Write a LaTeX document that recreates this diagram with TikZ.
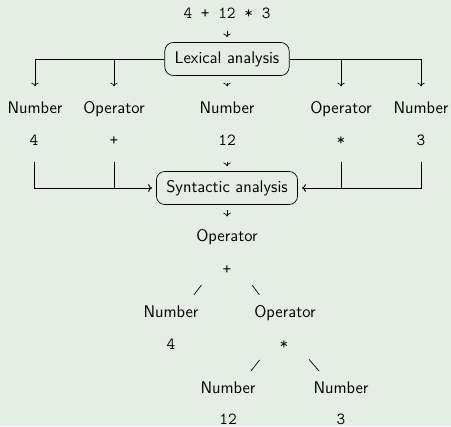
\documentclass[tikz,border=0pt]{standalone}
\usepackage{tikz}
\usetikzlibrary{arrows.meta}
\definecolor{paper}{RGB}{228,238,228}

\begin{document}
\begin{tikzpicture}[x=0.025cm, y=-0.025cm, font=\fontsize{12pt}{14pt}\sffamily,
    >={To[length=2.6pt, width=5.2pt]}, line width=0.5pt,
    word/.style={text height=8pt, text depth=2pt, inner sep=3.33pt},
    value/.style={word, font=\fontsize{12pt}{14pt}\ttfamily},
    stage/.style={draw, rounded corners=6pt, minimum height=23.5pt, inner xsep=7pt},
    twig/.style={shorten <=13.5pt, shorten >=5.5pt}]
    \fill[paper] (0,0) rectangle (451,426);
    \useasboundingbox (0,0) rectangle (451,426);

    % input and scanner
    \node[value] (expr) at (227,14) {4 + 12 * 3};
    \node[stage] (lex) at (227,59) {Lexical analysis};
    \draw[->, shorten <=3.5pt, shorten >=3.5pt] (expr) -- (lex);

    % tokens
    \node[word] (n1) at (35,109) {Number};
    \node[word] (o1) at (114,109) {Operator};
    \node[word] (n2) at (227,109) {Number};
    \node[word] (o2) at (341,109) {Operator};
    \node[word] (n3) at (421,109) {Number};
    \node[value] (v1) at (34,141) {4};
    \node[value] (v2) at (114,141) {+};
    \node[value] (v3) at (227,141) {12};
    \node[value] (v4) at (341,141) {*};
    \node[value] (v5) at (421,141) {3};

    \draw[->, shorten >=7.5pt] (lex.west) -| (n1.north);
    \draw[->, shorten >=7.5pt] (lex.west) -| (o1.north);
    \draw[->, shorten <=5pt, shorten >=7.5pt] (lex) -- (n2);
    \draw[->, shorten >=7.5pt] (lex.east) -| (o2.north);
    \draw[->, shorten >=7.5pt] (lex.east) -| (n3.north);

    % parser
    \node[stage] (syn) at (227,188) {Syntactic analysis};
    \draw[->, shorten <=6pt, shorten >=3pt] (v1.south) |- (syn.west);
    \draw[->, shorten <=6pt, shorten >=3pt] (v2.south) |- (syn.west);
    \draw[->, shorten <=6.5pt, shorten >=3.5pt] (v3) -- (syn);
    \draw[->, shorten <=6pt, shorten >=3pt] (v4.south) |- (syn.east);
    \draw[->, shorten <=6pt, shorten >=3pt] (v5.south) |- (syn.east);

    % syntax tree
    \node[word] (op1) at (227,237) {Operator};
    \node[value] (plus) at (227,270) {+};
    \node[word] (nb4) at (171,313) {Number};
    \node[word] (op2) at (285,313) {Operator};
    \node[value] (four) at (171,345) {4};
    \node[value] (star) at (284,345) {*};
    \node[word] (nb12) at (228,389) {Number};
    \node[word] (nb3) at (341,389) {Number};
    \node[value] (twelve) at (228,420) {12};
    \node[value] (three) at (341,420) {3};
    \draw[->, shorten <=3.5pt, shorten >=6pt] (syn) -- (op1);

    \draw[twig] ([xshift=-10pt]plus.center) -- ([xshift=13pt]nb4.north);
    \draw[twig] ([xshift=10pt]plus.center) -- ([xshift=-15pt]op2.north);
    \draw[twig] ([xshift=-9pt]star.center) -- ([xshift=13pt]nb12.north);
    \draw[twig] ([xshift=9pt]star.center) -- ([xshift=-12pt]nb3.north);
  \end{tikzpicture}
\end{document}
